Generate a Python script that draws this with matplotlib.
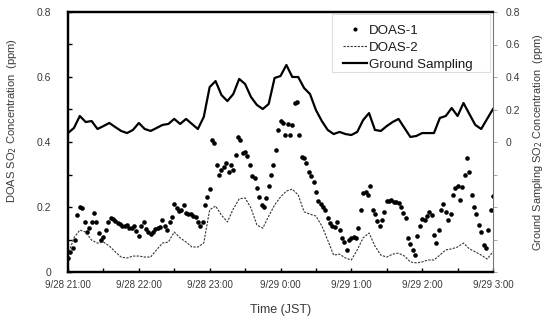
import numpy as np
import matplotlib
matplotlib.use("Agg")
import matplotlib.pyplot as plt
from matplotlib.ticker import MultipleLocator, FixedLocator
from matplotlib.patches import Rectangle

plt.rcParams['font.family'] = ['Liberation Sans', 'DejaVu Sans']

# ---- data ----
# time in minutes after 9/28 21:00
doas1_minutes = np.arange(0, 361, 2)
doas1 = [0.043, 0.062, 0.074, 0.098, 0.175, 0.200, 0.197, 0.154, 0.123, 0.135,
         0.154, 0.182, 0.154, 0.120, 0.098, 0.108, 0.129, 0.154, 0.166, 0.163,
         0.157, 0.151, 0.148, 0.142, 0.142, 0.145, 0.135, 0.135, 0.142, 0.126,
         0.111, 0.142, 0.154, 0.132, 0.123, 0.117, 0.123, 0.132, 0.135, 0.138,
         0.160, 0.142, 0.129, 0.154, 0.169, 0.209, 0.197, 0.188, 0.191, 0.206,
         0.182, 0.178, 0.178, 0.172, 0.169, 0.154, 0.142, 0.154, 0.206, 0.231,
         0.255, 0.406, 0.397, 0.329, 0.298, 0.314, 0.323, 0.335, 0.308, 0.329,
         0.314, 0.360, 0.415, 0.406, 0.366, 0.369, 0.357, 0.329, 0.295, 0.289,
         0.258, 0.231, 0.206, 0.200, 0.228, 0.265, 0.298, 0.329, 0.375, 0.437,
         0.465, 0.458, 0.422, 0.455, 0.422, 0.452, 0.520, 0.523, 0.422, 0.354,
         0.351, 0.335, 0.308, 0.295, 0.277, 0.246, 0.218, 0.209, 0.200, 0.191,
         0.166, 0.151, 0.142, 0.138, 0.154, 0.129, 0.105, 0.092, 0.068, 0.098,
         0.105, 0.108, 0.105, 0.135, 0.191, 0.243, 0.246, 0.237, 0.265, 0.191,
         0.178, 0.157, 0.142, 0.160, 0.185, 0.218, 0.218, 0.222, 0.215, 0.215,
         0.212, 0.200, 0.182, 0.166, 0.105, 0.086, 0.068, 0.052, 0.111, 0.142,
         0.163, 0.160, 0.172, 0.185, 0.175, 0.114, 0.089, 0.129, 0.191, 0.209,
         0.185, 0.160, 0.178, 0.237, 0.258, 0.265, 0.222, 0.262, 0.298, 0.351,
         0.308, 0.237, 0.200, 0.178, 0.145, 0.123, 0.083, 0.074, 0.129, 0.191,
         0.234]

five_min = np.arange(0, 361, 5)
doas2 = [0.052, 0.105, 0.129, 0.123, 0.098, 0.089, 0.092, 0.080, 0.062, 0.046,
         0.043, 0.049, 0.049, 0.046, 0.046, 0.068, 0.089, 0.092, 0.123, 0.105,
         0.092, 0.077, 0.077, 0.089, 0.191, 0.203, 0.175, 0.154, 0.194, 0.225,
         0.228, 0.197, 0.145, 0.135, 0.172, 0.206, 0.231, 0.249, 0.255, 0.237,
         0.185, 0.178, 0.172, 0.142, 0.098, 0.052, 0.055, 0.043, 0.037, 0.068,
         0.105, 0.120, 0.080, 0.052, 0.046, 0.055, 0.058, 0.049, 0.031, 0.028,
         0.031, 0.037, 0.037, 0.052, 0.068, 0.071, 0.077, 0.089, 0.071, 0.062,
         0.052, 0.040, 0.062]

ground = [0.055, 0.086, 0.160, 0.123, 0.129, 0.080, 0.098, 0.117, 0.092, 0.068,
          0.055, 0.074, 0.117, 0.080, 0.068, 0.086, 0.105, 0.111, 0.142, 0.111,
          0.142, 0.111, 0.080, 0.154, 0.338, 0.375, 0.289, 0.252, 0.295, 0.388,
          0.357, 0.277, 0.228, 0.203, 0.234, 0.394, 0.406, 0.474, 0.400, 0.400,
          0.332, 0.295, 0.197, 0.129, 0.074, 0.049, 0.062, 0.049, 0.043, 0.062,
          0.135, 0.178, 0.074, 0.068, 0.098, 0.123, 0.142, 0.086, 0.031, 0.037,
          0.055, 0.055, 0.055, 0.148, 0.160, 0.209, 0.160, 0.240, 0.172, 0.105,
          0.080, 0.142, 0.203]

xtick_minutes = [0, 60, 120, 180, 240, 300, 360]
xtick_labels = ["9/28 21:00", "9/28 22:00", "9/28 23:00", "9/29 0:00",
                "9/29 1:00", "9/29 2:00", "9/29 3:00"]
left_ticks = [0, 0.2, 0.4, 0.6, 0.8]
left_tick_labels = ["0", "0.2", "0.4", "0.6", "0.8"]
right_ticks = [0, 0.2, 0.4, 0.6, 0.8]
right_tick_labels = ["0", "0.2", "0.4", "0.6", "0.8"]

TXT = '#3a3a3a'

fig = plt.figure(figsize=(5.49, 3.22), dpi=100)
ax = fig.add_axes([68/549, 50/322, 425/549, 260/322])
ax2 = ax.twinx()

h1, = ax.plot(doas1_minutes, doas1, linestyle='none', marker='o', ms=3.3,
              mfc='black', mec='black', mew=0, color='black', label='DOAS-1')
h2, = ax.plot(five_min, doas2, linestyle=(0, (2, 1.2)), lw=0.8, color='#333333',
              label='DOAS-2')
h3, = ax2.plot(five_min, ground, color='black', lw=1.6, label='Ground Sampling')

ax.set_xlim(0, 360)
ax.set_ylim(0, 0.8)
ax2.set_ylim(-0.8, 0.8)

ax.set_xticks(xtick_minutes)
ax.set_xticklabels(xtick_labels, fontsize=7, color=TXT)
ax.xaxis.set_minor_locator(MultipleLocator(30))
ax.set_yticks(left_ticks)
ax.set_yticklabels(left_tick_labels, fontsize=7.5, color=TXT)
ax.yaxis.set_minor_locator(MultipleLocator(0.1))
ax.tick_params(axis='both', which='both', direction='in', length=3, width=1,
               color='black')
ax.tick_params(axis='x', pad=6)
ax.tick_params(axis='y', pad=12)

ax2.set_yticks(right_ticks)
ax2.set_yticklabels(right_tick_labels, fontsize=7.5, color=TXT)
ax2.yaxis.set_minor_locator(FixedLocator([-0.8, -0.6, -0.4, -0.2]))
ax2.tick_params(axis='y', which='both', direction='out', length=3, width=0.6,
                color='#999999', pad=6)

for s in ['left', 'bottom', 'top']:
    ax.spines[s].set_linewidth(1.6)
    ax2.spines[s].set_linewidth(1.6)
ax2.spines['right'].set_linewidth(0.8)
ax2.spines['right'].set_color('#777777')
ax.spines['right'].set_visible(False)

ax.set_xlabel('Time (JST)', fontsize=9, color=TXT, labelpad=10)
ax.set_ylabel('DOAS SO$_2$ Concentration  (ppm)', fontsize=8, color=TXT,
              labelpad=6)
ax.yaxis.set_label_coords(-0.115, (272 - 121) / 260)
ax2.set_ylabel('Ground Sampling SO$_2$ Concentration  (ppm)', fontsize=7.9,
               color=TXT, labelpad=8)

# legend frame (wider than the entries, as in the original)
frame = Rectangle((0.621, 0.769), 0.372, 0.223, transform=ax2.transAxes,
                  facecolor='white', edgecolor='#dddddd', lw=0.8, zorder=5)
ax2.add_patch(frame)

leg = ax2.legend(handles=[h1, h2, h3], loc='upper right',
                 bbox_to_anchor=(0.951, 0.952), fontsize=9.6, frameon=False,
                 handlelength=1.75, handletextpad=0.15, borderpad=0,
                 labelspacing=0.35, markerscale=0.9, borderaxespad=0)
leg.set_zorder(6)
for t in leg.get_texts():
    t.set_color('#1a1a1a')

fig.savefig('out.png', dpi=100)
